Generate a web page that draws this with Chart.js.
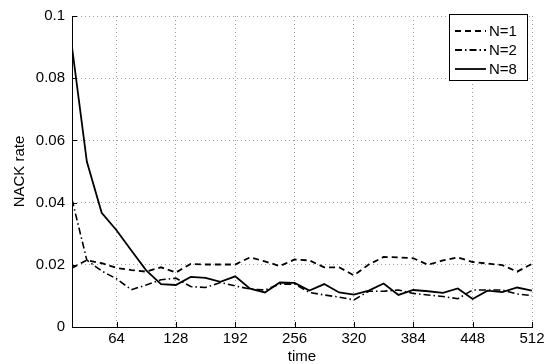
<!DOCTYPE html>
<html>
<head>
<meta charset="utf-8">
<script src="https://cdn.jsdelivr.net/npm/chart.js@4"></script>
<style>
  html, body { margin: 0; padding: 0; background: #fff; }
  #wrap { width: 556px; height: 364px; }
</style>
</head>
<body>
<div id="wrap"><canvas id="chart" width="556" height="364"></canvas></div>
<script>
const times = [16,32,48,64,80,96,112,128,144,160,176,192,208,224,240,256,272,288,304,320,336,352,368,384,400,416,432,448,464,480,496,512];

const n1 = [0.0190,0.0215,0.0205,0.0190,0.0183,0.0178,0.0192,0.0175,0.0203,0.0201,0.0201,0.0201,
            0.0224,0.0211,0.0196,0.0217,0.0214,0.0192,0.0192,0.0166,0.0201,0.0225,0.0224,0.0221,
            0.0200,0.0214,0.0224,0.0209,0.0204,0.0199,0.0178,0.0203];
const n2 = [0.0410,0.0215,0.0180,0.0155,0.0120,0.0135,0.0152,0.0157,0.0130,0.0127,0.0143,0.0132,
            0.0122,0.0119,0.0138,0.0138,0.0111,0.0103,0.0096,0.0087,0.0115,0.0115,0.0119,0.0108,
            0.0103,0.0098,0.0091,0.0119,0.0119,0.0119,0.0106,0.0101];
const n8 = [0.0900,0.0532,0.0367,0.0311,0.0246,0.0182,0.0138,0.0135,0.0161,0.0158,0.0145,0.0163,
            0.0123,0.0111,0.0143,0.0142,0.0117,0.0138,0.0111,0.0104,0.0117,0.0140,0.0103,0.0119,
            0.0115,0.0110,0.0124,0.0090,0.0117,0.0112,0.0127,0.0117];

const xTicks = [64,128,192,256,320,384,448,512];
const yTicks = [0,0.02,0.04,0.06,0.08,0.1];
const yTickLabels = ['0','0.02','0.04','0.06','0.08','0.1'];
const seriesNames = ['N=1','N=2','N=8'];

const dashes = [[6,4],[7,3,1.5,3],[]];
const font = "'Liberation Sans', Arial, sans-serif";

const pts = arr => arr.map((v, i) => ({ x: times[i], y: v }));

// matlab style inward ticks + boxed legend
const matlabBits = {
  id: 'matlabBits',
  afterDraw(chart) {
    const ctx = chart.ctx, a = chart.chartArea;
    const xs = chart.scales.x, ys = chart.scales.y;
    ctx.save();
    ctx.strokeStyle = '#000';
    ctx.lineWidth = 1;
    ctx.beginPath();
    xTicks.forEach(v => {
      const px = Math.round(xs.getPixelForValue(v)) + 0.5;
      ctx.moveTo(px, a.bottom); ctx.lineTo(px, a.bottom - 5);
    });
    yTicks.forEach(v => {
      const py = Math.round(ys.getPixelForValue(v)) + 0.5;
      ctx.moveTo(a.left, py); ctx.lineTo(a.left + 5, py);
    });
    ctx.stroke();

    // legend
    const lx = 449.5, ly = 14.5, lw = 78, lh = 66;
    ctx.fillStyle = '#fff';
    ctx.fillRect(lx, ly, lw, lh);
    ctx.strokeRect(lx, ly, lw, lh);
    ctx.font = '15px ' + font;
    ctx.textBaseline = 'middle';
    ctx.textAlign = 'left';
    seriesNames.forEach((name, i) => {
      const cy = 31 + i * 19;
      ctx.beginPath();
      ctx.setLineDash(dashes[i]);
      ctx.lineWidth = 1.8;
      ctx.moveTo(455, cy); ctx.lineTo(486, cy);
      ctx.stroke();
      ctx.setLineDash([]);
      ctx.fillStyle = '#000';
      ctx.fillText(name, 489, cy + 1);
    });
    ctx.restore();
  }
};

new Chart(document.getElementById('chart'), {
  type: 'line',
  data: {
    datasets: [
      { label: seriesNames[0], data: pts(n1), borderColor: '#000', borderWidth: 1.8, borderDash: dashes[0], pointRadius: 0, tension: 0, fill: false },
      { label: seriesNames[1], data: pts(n2), borderColor: '#000', borderWidth: 1.6, borderDash: dashes[1], pointRadius: 0, tension: 0, fill: false },
      { label: seriesNames[2], data: pts(n8), borderColor: '#000', borderWidth: 1.8, borderDash: dashes[2], pointRadius: 0, tension: 0, fill: false }
    ]
  },
  options: {
    responsive: false,
    animation: false,
    events: [],
    layout: { padding: { top: 10, right: 24, left: 0, bottom: 0 } },
    plugins: { legend: { display: false }, tooltip: { enabled: false } },
    scales: {
      x: {
        type: 'linear', min: 16, max: 512,
        afterBuildTicks: s => { s.ticks = xTicks.map(v => ({ value: v })); },
        afterFit: s => { s.height = 37; },
        grid: { color: '#a0a0a0', lineWidth: 1, drawTicks: false },
        border: { display: true, color: '#000', width: 1, dash: [1, 3] },
        ticks: { color: '#000', font: { family: font, size: 15 }, padding: 3, maxRotation: 0 },
        title: { display: true, text: 'time', color: '#000', font: { family: font, size: 15, lineHeight: 1 }, padding: { top: 0, bottom: 0 } }
      },
      y: {
        min: 0, max: 0.1,
        afterBuildTicks: s => { s.ticks = yTicks.map(v => ({ value: v })); },
        afterFit: s => { s.width = 72; },
        grid: { color: '#a0a0a0', lineWidth: 1, drawTicks: false },
        border: { display: true, color: '#000', width: 1, dash: [1, 3] },
        ticks: { color: '#000', font: { family: font, size: 15 }, padding: 7,
                 callback: (v, i) => yTickLabels[i] },
        title: { display: true, text: 'NACK rate', color: '#000', font: { family: font, size: 15 }, padding: { top: 11, bottom: 0 } }
      }
    }
  },
  plugins: [matlabBits]
});
</script>
</body>
</html>
